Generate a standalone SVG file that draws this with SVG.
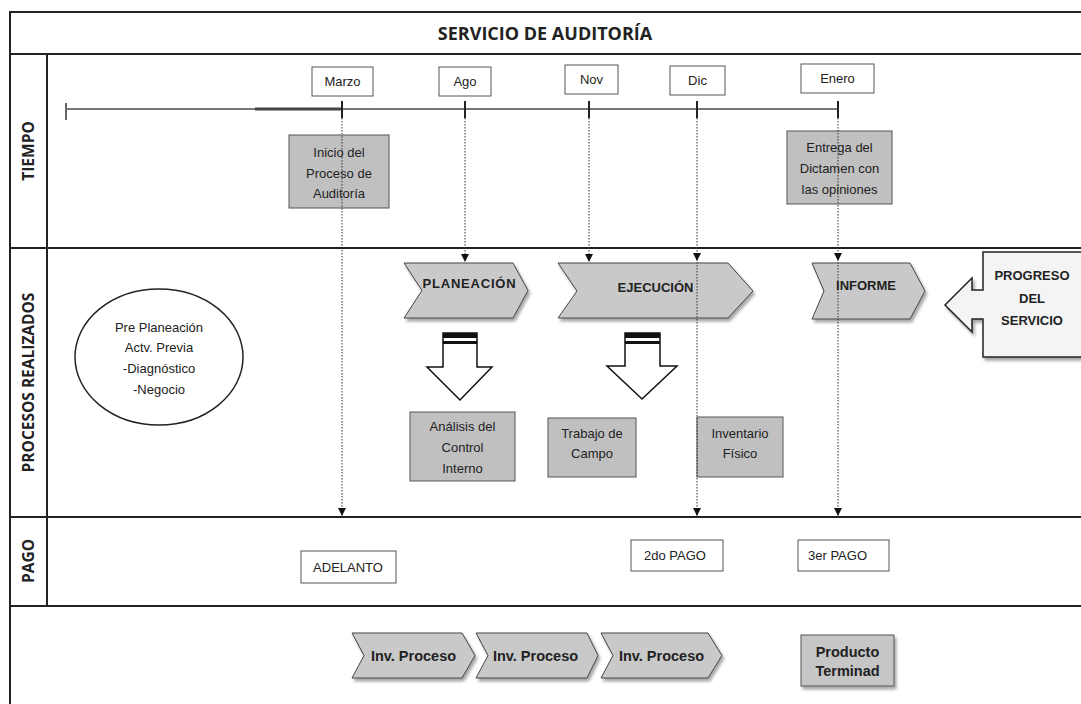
<svg xmlns="http://www.w3.org/2000/svg" width="1081" height="704" viewBox="0 0 1081 704">
<defs>
<style>
.frame{stroke:#222;stroke-width:2;fill:none}
.box{fill:#fff;stroke:#555;stroke-width:1}
.gbox{fill:#c0c0c0;stroke:#555;stroke-width:1}
.chev{fill:#c9c9c9;stroke:#444;stroke-width:1;filter:url(#sh)}
.t{font-family:"Liberation Sans",Arial,sans-serif;font-size:13px;fill:#222;text-anchor:middle}
.tb{font-family:"Liberation Sans",Arial,sans-serif;font-size:13px;font-weight:bold;fill:#222;text-anchor:middle}
.lane{font-family:"Open Sans","Noto Sans",sans-serif;font-size:15.5px;font-weight:bold;fill:#222;text-anchor:middle}
.dot{stroke:#333;stroke-width:1;stroke-dasharray:1.5 1.5;fill:none}
</style>
<filter id="sh" x="-10%" y="-10%" width="130%" height="140%">
<feDropShadow dx="2" dy="3" stdDeviation="1.5" flood-color="#000" flood-opacity="0.35"/>
</filter>
<marker id="ah" viewBox="0 0 8 8" markerWidth="8" markerHeight="8" refX="8" refY="4" orient="auto" markerUnits="userSpaceOnUse">
<path d="M0,0 L8,4 L0,8 z" fill="#111"/>
</marker>
</defs>
<rect width="1081" height="704" fill="#fff"/>

<g id="frame">
<path class="frame" d="M10,704 V12 H1081 M10,54 H1081 M10,248 H1081 M10,517 H1081 M10,606 H1081 M47,54 V606"/>
<text x="545" y="40" style="font-family:'Open Sans','Noto Sans',sans-serif;font-size:18px;font-weight:bold;fill:#222;text-anchor:middle">SERVICIO DE AUDITORÍA</text>
<text class="lane" transform="translate(33.5,151) rotate(-90)">TIEMPO</text>
<text class="lane" transform="translate(33.5,382.5) rotate(-90)">PROCESOS REALIZADOS</text>
<text class="lane" transform="translate(33.5,561) rotate(-90)">PAGO</text>
</g>

<g id="timeline">
<path d="M66,109 H838" stroke="#777" stroke-width="2" fill="none"/>
<path d="M255,109 H342" stroke="#444" stroke-width="3" fill="none"/>
<path d="M66,103 V120" stroke="#666" stroke-width="2" fill="none"/>
<path d="M342,101 V118 M465,101 V118 M589,101 V118 M697,101 V118 M838,101 V118" stroke="#222" stroke-width="2" fill="none"/>
</g>

<g id="m-marzo"><rect class="box" x="312" y="67" width="61" height="29"/><text class="t" x="342.5" y="86">Marzo</text></g>
<g id="m-ago"><rect class="box" x="439" y="67" width="52" height="29"/><text class="t" x="465" y="86">Ago</text></g>
<g id="m-nov"><rect class="box" x="565" y="65" width="53" height="29"/><text class="t" x="591.5" y="84">Nov</text></g>
<g id="m-dic"><rect class="box" x="670" y="66" width="55" height="29"/><text class="t" x="697.5" y="85">Dic</text></g>
<g id="m-enero"><rect class="box" x="801" y="64" width="73" height="29"/><text class="t" x="837.5" y="83">Enero</text></g>

<g id="inicio"><rect class="gbox" x="289" y="135" width="100" height="73"/>
<text class="t" x="339" y="156.5">Inicio del</text><text class="t" x="339" y="177.5">Proceso de</text><text class="t" x="339" y="197.5">Auditoría</text></g>
<g id="entrega"><rect class="gbox" x="787" y="131" width="105" height="73"/>
<text class="t" x="839.5" y="151.5">Entrega del</text><text class="t" x="839.5" y="172.5">Dictamen con</text><text class="t" x="839.5" y="193.5">las opiniones</text></g>

<g id="preplaneacion"><ellipse cx="159" cy="357" rx="84" ry="68" fill="#fff" stroke="#222" stroke-width="1.5"/>
<text class="t" x="159" y="331.5">Pre Planeación</text><text class="t" x="159" y="351.5">Actv. Previa</text><text class="t" x="159" y="372.5">-Diagnóstico</text><text class="t" x="159" y="393.5">-Negocio</text></g>

<g id="planeacion"><polygon class="chev" points="404,263 513,263 528,290.5 513,318 404,318 422,290.5"/>
<text class="tb" x="469.5" y="288" letter-spacing="0.8">PLANEACIÓN</text></g>
<g id="ejecucion"><polygon class="chev" points="558,263 728,263 753,291 728,318 558,318 577,291"/>
<text class="tb" x="655.5" y="292">EJECUCIÓN</text></g>
<g id="informe"><polygon class="chev" points="812,263 910,263 925,291 910,319 812,319 824,291"/>
<text class="tb" x="866" y="290">INFORME</text></g>

<g id="progreso"><polygon points="945,305 972,278 972,290 983,290 983,252 1090,252 1090,357 983,357 983,319 972,319 972,332" fill="#f4f4f4" stroke="#222" stroke-width="1.5" style="filter:url(#sh)"/>
<text class="tb" x="1032" y="279.5">PROGRESO</text><text class="tb" x="1032" y="302.5">DEL</text><text class="tb" x="1032" y="324.5">SERVICIO</text></g>

<g id="down1"><polygon points="443,333 477,333 477,367 492,367 460,400 427,367 443,367" fill="#fff" stroke="#111" stroke-width="1.5"/>
<rect x="443" y="333" width="34" height="5" fill="#111"/><rect x="443" y="341" width="34" height="3" fill="#111"/></g>
<g id="down2"><polygon points="625,333 660,333 660,366 677,366 642,399 607,366 625,366" fill="#fff" stroke="#111" stroke-width="1.5"/>
<rect x="625" y="333" width="35" height="5" fill="#111"/><rect x="625" y="341" width="35" height="3" fill="#111"/></g>

<g id="analisis"><rect class="gbox" x="410" y="412" width="105" height="69"/>
<text class="t" x="462.5" y="430.5">Análisis del</text><text class="t" x="462.5" y="451.5">Control</text><text class="t" x="462.5" y="472.5">Interno</text></g>
<g id="trabajo"><rect class="gbox" x="548" y="418" width="88" height="59"/>
<text class="t" x="592" y="437.5">Trabajo de</text><text class="t" x="592" y="457.5">Campo</text></g>
<g id="inventario"><rect class="gbox" x="697" y="417" width="86" height="60"/>
<text class="t" x="740" y="437.5">Inventario</text><text class="t" x="740" y="457.5">Físico</text></g>

<g id="adelanto"><rect class="box" x="301" y="551" width="95" height="32"/><text class="t" x="348" y="571.5">ADELANTO</text></g>
<g id="pago2"><rect class="box" x="631" y="540" width="92" height="31"/><text class="t" x="675" y="560">2do PAGO</text></g>
<g id="pago3"><rect class="box" x="798" y="540" width="91" height="31"/><text class="t" x="808" y="560" style="text-anchor:start">3er PAGO</text></g>

<g id="inv1"><polygon class="chev" points="352,633 462,633 475,655.5 462,678 352,678 364,655.5"/>
<text class="tb" x="413.5" y="661" style="font-size:14.5px">Inv. Proceso</text></g>
<g id="inv2"><polygon class="chev" points="476,633 587,633 598,655.5 587,678 476,678 488,655.5"/>
<text class="tb" x="535.5" y="661" style="font-size:14.5px">Inv. Proceso</text></g>
<g id="inv3"><polygon class="chev" points="601,633 708,633 722,655.5 708,678 601,678 613,655.5"/>
<text class="tb" x="661.5" y="661" style="font-size:14.5px">Inv. Proceso</text></g>
<g id="producto"><rect class="gbox" x="801" y="635" width="93" height="51" style="fill:#c6c6c6;filter:url(#sh)"/>
<text class="tb" x="847.5" y="657" style="font-size:14.5px">Producto</text><text class="tb" x="847.5" y="676" style="font-size:14.5px">Terminad</text></g>

<g id="connectors">
<path class="dot" d="M342,118 V516" marker-end="url(#ah)"/>
<path class="dot" d="M465,118 V262" marker-end="url(#ah)"/>
<path class="dot" d="M589,118 V262" marker-end="url(#ah)"/>
<path class="dot" d="M697,118 V261" marker-end="url(#ah)"/>
<path class="dot" d="M697,262 V516" marker-end="url(#ah)"/>
<path class="dot" d="M838,118 V261" marker-end="url(#ah)"/>
<path class="dot" d="M838,262 V516" marker-end="url(#ah)"/>
</g>
</svg>
